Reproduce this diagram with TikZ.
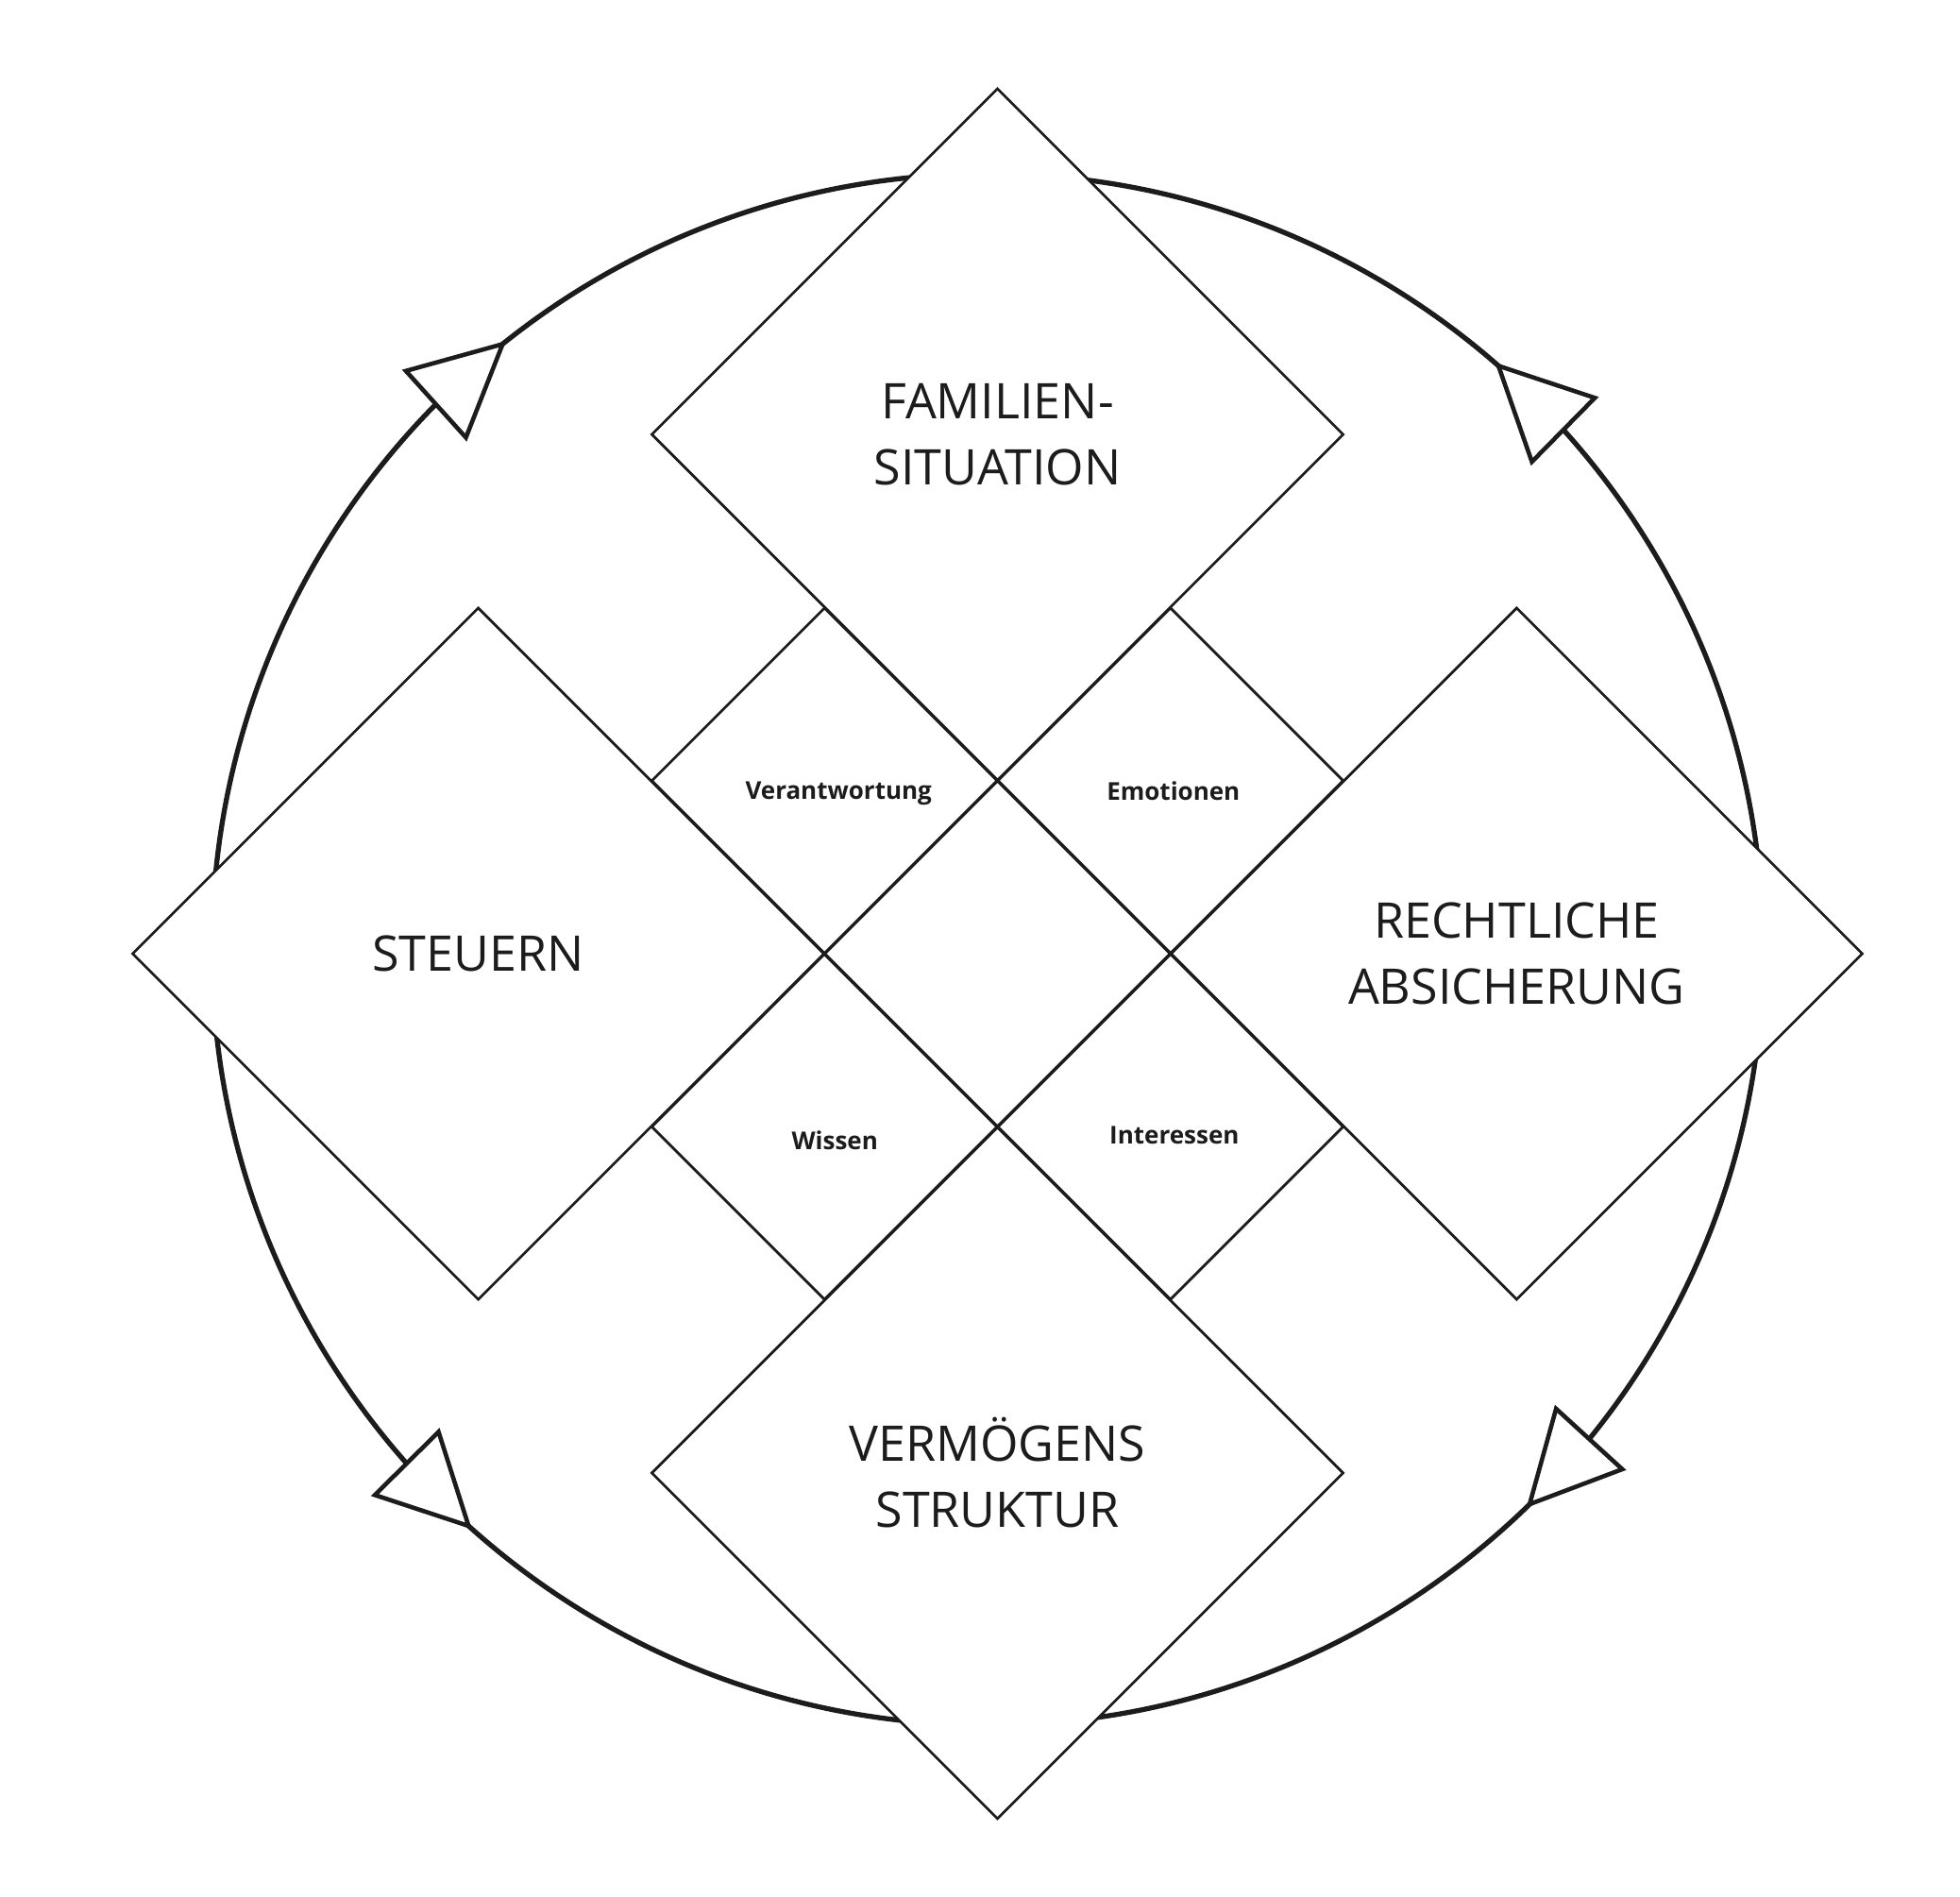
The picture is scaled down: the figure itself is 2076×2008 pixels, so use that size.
\documentclass[tikz,border=0pt]{standalone}
\usepackage{fontspec}
\setmainfont{Open Sans}
\usetikzlibrary{shapes.geometric,calc}
\definecolor{ink}{RGB}{28,28,28}
\begin{document}
\begin{tikzpicture}[x=1pt,y=-1pt,
  ring/.style={draw=ink,line width=5.3pt},
  tri/.style={draw=ink,line width=4.6pt,fill=white,line join=miter},
  bigd/.style={diamond,aspect=1,draw=ink,fill=white,line width=2.7pt,inner sep=0pt,
    minimum width=733.2pt,minimum height=733.2pt,align=center,
    font=\fontsize{52}{70}\selectfont,text=ink},
  smalld/.style={diamond,aspect=1,draw=ink,fill=white,line width=2.7pt,inner sep=0pt,
    minimum width=366.6pt,minimum height=366.6pt},
  lbl/.style={font=\fontsize{26}{30}\selectfont\bfseries,text=ink,inner sep=0pt}]
\useasboundingbox (0,0) rectangle (2076,2008);
% ring
\coordinate (C) at (1046,1005.5);
\draw[ring] (C) circle[radius=821.5pt];
% arrowheads on the ring
\coordinate (ulA) at ($(C)+(-128.7:821.5)$);
\coordinate (ulM) at ($(C)+(-135.34:821.5)$);
\coordinate (urA) at ($(C)+(-48.8:821.5)$);
\coordinate (urM) at ($(C)+(-42.06:821.5)$);
\coordinate (llA) at ($(C)+(-228.0:821.5)$);
\coordinate (llM) at ($(C)+(-221.5:821.5)$);
\coordinate (lrA) at ($(C)+(45.66:821.5)$);
\coordinate (lrM) at ($(C)+(39.13:821.5)$);
\draw[tri] (ulA) -- ($(ulM)!47.5pt!90:(ulA)$) -- ($(ulM)!47.5pt!-90:(ulA)$) -- cycle;
\draw[tri] (urA) -- ($(urM)!47.5pt!90:(urA)$) -- ($(urM)!47.5pt!-90:(urA)$) -- cycle;
\draw[tri] (llA) -- ($(llM)!47.5pt!90:(llA)$) -- ($(llM)!47.5pt!-90:(llA)$) -- cycle;
\draw[tri] (lrA) -- ($(lrM)!47.5pt!90:(lrA)$) -- ($(lrM)!47.5pt!-90:(lrA)$) -- cycle;
% big diamonds
\node[bigd] (fam) at (1056.5,460.1) {FAMILIEN-\\SITUATION};
\node[bigd] (steu) at (506.6,1010) {STEUERN};
\node[bigd] (recht) at (1606.4,1010) {RECHTLICHE\\ABSICHERUNG};
\node[bigd] (verm) at (1056.5,1559.9) {VERMÖGENS\\STRUKTUR};
% small diamonds
\node[smalld] (mid) at (1056.5,1010) {};
\node[smalld] (dv) at (873.2,826.7) {};
\node[smalld] (de) at (1239.8,826.7) {};
\node[smalld] (dw) at (873.2,1193.3) {};
\node[smalld] (di) at (1239.8,1193.3) {};
% labels
\node[lbl] (lv) at ($(dv)+(15,14)$) {Verantwortung};
\node[lbl] (le) at ($(de)+(3,11)$) {Emotionen};
\node[lbl] (lw) at ($(dw)+(11,14)$) {Wissen};
\node[lbl] (li) at ($(di)+(4,9)$) {Interessen};
\end{tikzpicture}
\end{document}
